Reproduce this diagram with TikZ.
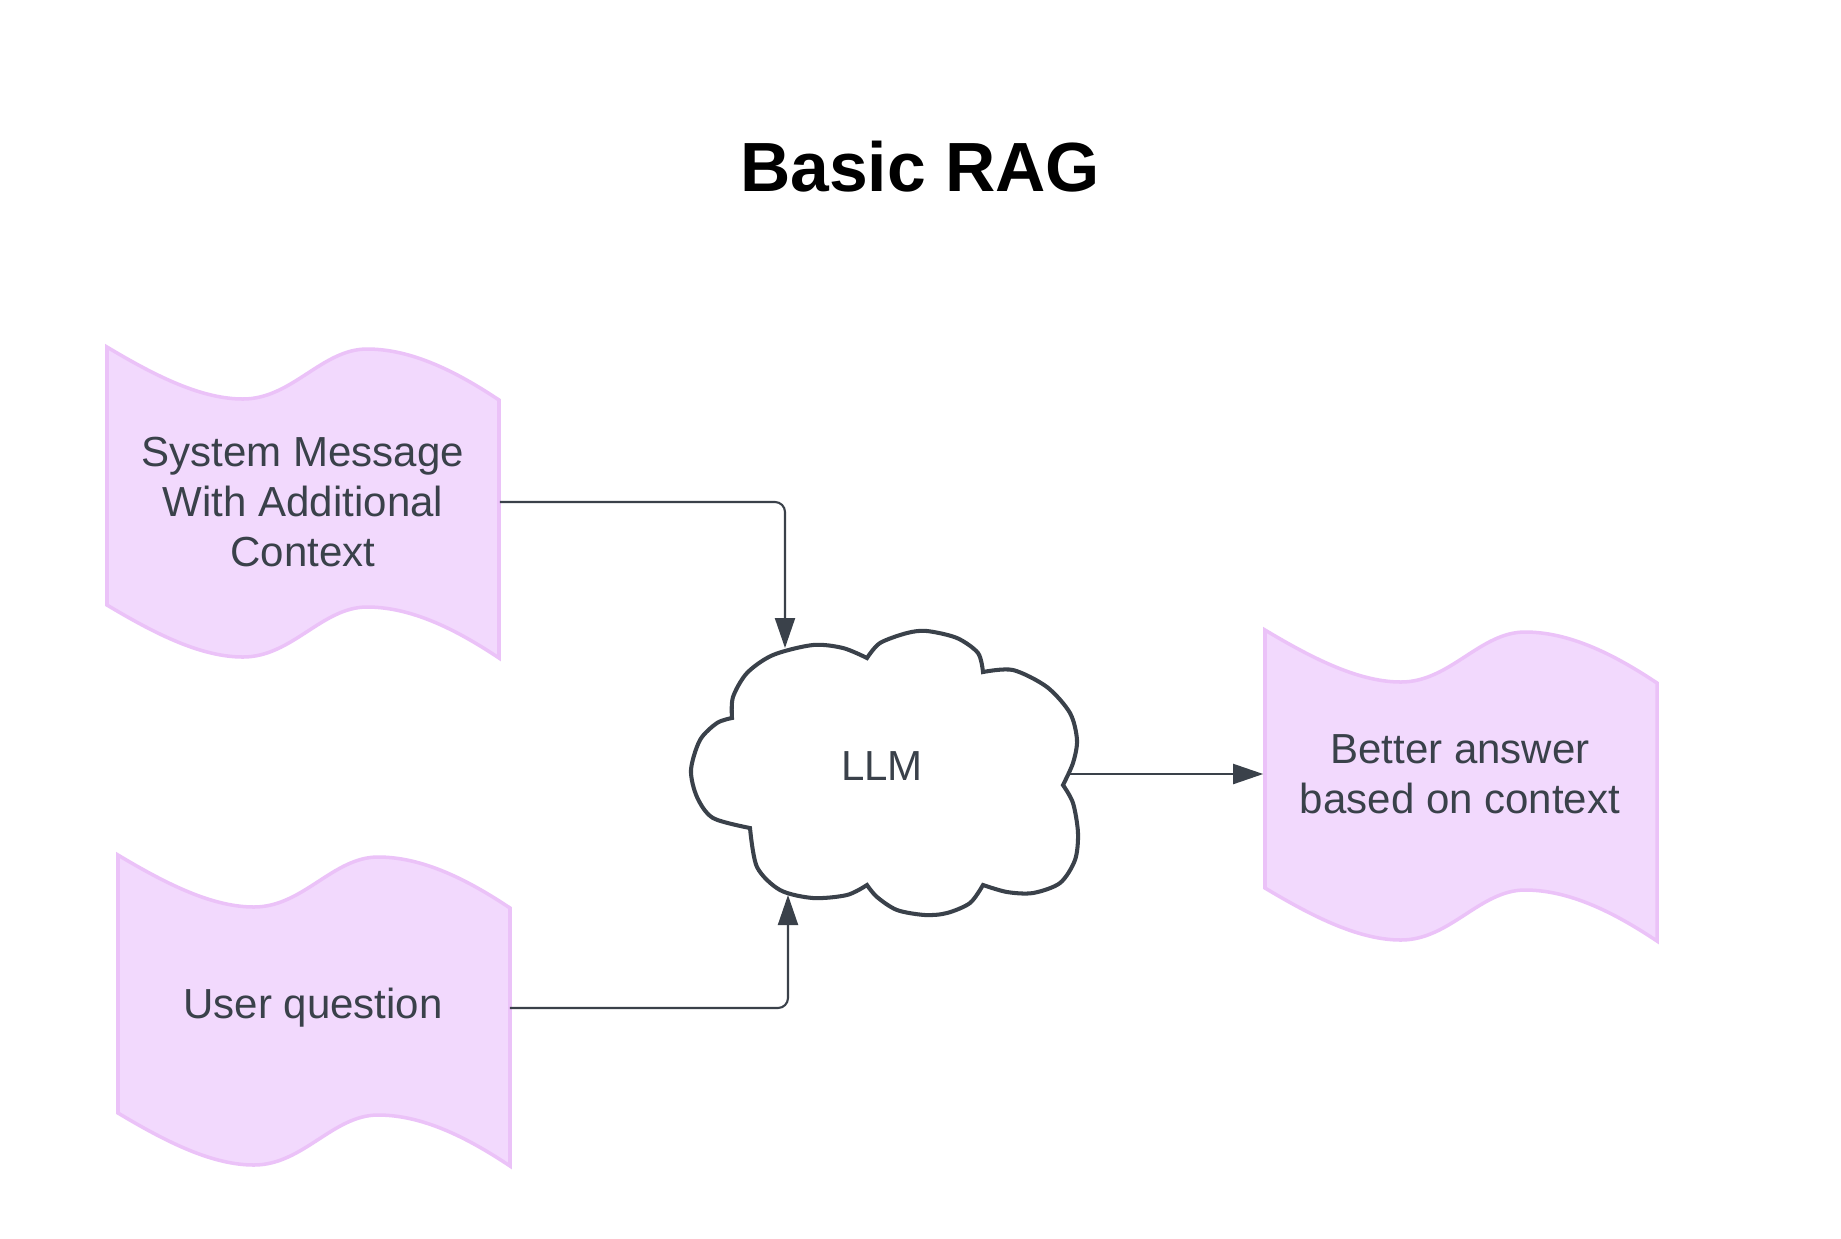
\documentclass[tikz,border=0pt]{standalone}
\usepackage{fontspec}
\setmainfont{Liberation Sans}
\usetikzlibrary{arrows.meta}
\definecolor{tapefill}{HTML}{F2D9FD}
\definecolor{tapeedge}{HTML}{EBC2F8}
\definecolor{ink}{HTML}{3A414A}
\tikzset{tape/.pic={
		\path[draw=tapeedge,fill=tapefill,line width=1pt]
		(0,0) .. controls (50,30) and (95,52) .. (136,52)
		.. controls (185,52) and (215,2) .. (260,2)
		.. controls (305,2) and (350,25) .. (392,53)
		-- (392,311)
		.. controls (350,283) and (305,260) .. (260,260)
		.. controls (215,260) and (185,310) .. (136,310)
		.. controls (95,310) and (50,288) .. (0,258) -- cycle;
	},
	tape text/.style={minimum width=3.92cm,inner sep=0pt,align=center,text=ink,font=\fontsize{11.95}{14.3}\selectfont},
	conn/.style={draw=ink,line width=0.6pt,rounded corners=0.1cm,-{Triangle[length=3mm,width=2mm]}},
}

\begin{document}
\begin{tikzpicture}[x=0.01cm,y=-0.01cm]
	\fill[white] (0,0) rectangle (1841,1238);
	\useasboundingbox (0,0) rectangle (1841,1238);
	
	\node (title) at (920,167) {\fontsize{19.8}{23}\selectfont\bfseries Basic RAG};
	
	\pic at (107,347) {tape};
	\pic at (118,855) {tape};
	\pic at (1265,630) {tape};
	\node[tape text] (sysmsg) at (303,502) {System Message\\With Additional\\Context};
	\node[tape text] (question) at (313,1008) {User question};
	\node[tape text] (answer) at (1460,774) {Better answer\\based on context};
	
	% cloud
	\draw[ink,line width=1.15pt,fill=white]
	plot[smooth] coordinates {(750,828) (713,818) (697,797) (691,770) (700,740) (717,723) (732,718)}
	-- plot[smooth] coordinates {(732,718) (733,697) (747,673) (773,655) (813,645) (843,648) (867,658)}
	-- plot[smooth] coordinates {(867,658) (880,643) (907,633) (927,631) (957,638) (978,653) (983,672)}
	-- plot[smooth] coordinates {(983,672) (1013,670) (1047,687) (1070,713) (1077,740) (1073,763) (1063,785)}
	-- plot[smooth] coordinates {(1063,785) (1073,803) (1078,833) (1075,860) (1060,883) (1033,893) (1007,892) (983,885)}
	-- plot[smooth] coordinates {(983,885) (970,903) (947,913) (925,915) (897,910) (877,897) (867,885)}
	-- plot[smooth] coordinates {(867,885) (847,895) (813,898) (780,890) (757,867) (750,828)}
	-- cycle;
	\node[text=ink,font=\fontsize{11.95}{14.3}\selectfont] (llm) at (882,766) {LLM};
	\coordinate (llmtop) at (785,648);
	\coordinate (llmbot) at (788,895);
	\coordinate (llmright) at (1070,774);
	
	\path[conn]
	(sysmsg.east) -| (llmtop);
	\path[conn]
	(question.east) -| (llmbot);
	\path[conn]
	(llmright) -- (answer.west);
\end{tikzpicture}
\end{document}
